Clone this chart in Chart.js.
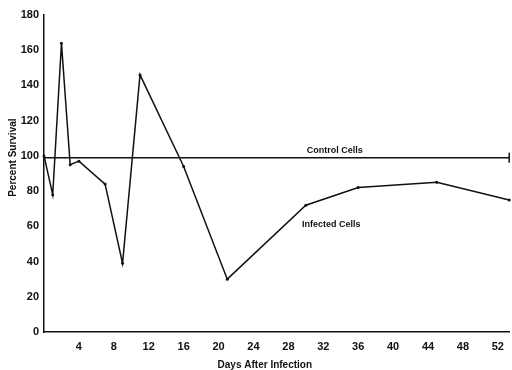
<!DOCTYPE html>
<html>
<head>
<meta charset="utf-8">
<script src="https://cdn.jsdelivr.net/npm/chart.js@4.4.1/dist/chart.umd.min.js"></script>
<style>
html,body{margin:0;padding:0;background:#fff;overflow:hidden;}
#wrap{width:512px;height:370px;position:relative;}
canvas{display:block;}
</style>
</head>
<body>
<div id="wrap"><canvas id="c" width="512" height="370"></canvas></div>
<script>
const infectedDays = [0, 1, 2, 3, 4, 7, 9, 11, 16, 21, 30, 36, 45, 53.3];
const infectedValues = [100, 78, 164, 95, 97, 84, 39, 146, 94, 30, 72, 82, 85, 75];
const controlDays = [0, 53.3];
const controlValues = [99, 99];
const xTickLabels = [4, 8, 12, 16, 20, 24, 28, 32, 36, 40, 44, 48, 52];
const yTickLabels = [0, 20, 40, 60, 80, 100, 120, 140, 160, 180];

const ink = '#111';
const fontFam = '"Liberation Sans", Arial, sans-serif';

const labelPlugin = {
  id: 'seriesLabels',
  afterDatasetsDraw(chart) {
    const {ctx, scales: {x, y}} = chart;
    ctx.save();
    ctx.fillStyle = ink;
    ctx.font = 'bold 9px ' + fontFam;
    ctx.textAlign = 'center';
    ctx.textBaseline = 'middle';
    ctx.fillText('Control Cells', x.getPixelForValue(33.3), y.getPixelForValue(102.8));
    ctx.fillText('Infected Cells', x.getPixelForValue(32.9), y.getPixelForValue(60.8));
    // axis titles
    ctx.font = 'bold 10px ' + fontFam;
    ctx.fillText('Days After Infection', x.getPixelForValue(25.3), 365);
    ctx.translate(13, y.getPixelForValue(99));
    ctx.rotate(-Math.PI / 2);
    ctx.fillText('Percent Survival', 0, 0);
    ctx.restore();
  }
};

new Chart(document.getElementById('c'), {
  type: 'line',
  data: {
    datasets: [
      {
        label: 'Control Cells',
        data: controlDays.map((d, i) => ({x: d, y: controlValues[i]})),
        borderColor: ink,
        borderWidth: 1.5,
        pointRadius: [0, 5],
        pointStyle: 'line',
        rotation: 90,
        pointBorderColor: ink,
        pointBorderWidth: 1.5,
        tension: 0
      },
      {
        label: 'Infected Cells',
        data: infectedDays.map((d, i) => ({x: d, y: infectedValues[i]})),
        borderColor: ink,
        borderWidth: 1.5,
        pointRadius: 1.5,
        pointBackgroundColor: ink,
        pointBorderColor: ink,
        pointBorderWidth: 0,
        tension: 0
      }
    ]
  },
  options: {
    responsive: false,
    animation: false,
    events: [],
    clip: false,
    layout: {autoPadding: false, padding: {top: 15, right: 1, left: 0, bottom: 0}},
    plugins: {legend: {display: false}, tooltip: {enabled: false}},
    scales: {
      x: {
        type: 'linear',
        min: 0,
        max: 53.3,
        afterBuildTicks(scale) { scale.ticks = xTickLabels.map(v => ({value: v})); },
        afterFit(scale) { scale.height = 38; },
        grid: {display: false, drawTicks: false},
        border: {display: true, color: ink, width: 1.5},
        ticks: {color: ink, font: {family: fontFam, size: 11, weight: 'bold'}, padding: 8, maxRotation: 0, autoSkip: false},
        title: {display: false}
      },
      y: {
        min: 0,
        max: 180,
        afterBuildTicks(scale) { scale.ticks = yTickLabels.map(v => ({value: v})); },
        afterFit(scale) { scale.width = 44; },
        grid: {display: false, drawTicks: false},
        border: {display: true, color: ink, width: 1.5},
        ticks: {color: ink, font: {family: fontFam, size: 11, weight: 'bold'}, padding: 5, autoSkip: false},
        title: {display: false}
      }
    }
  },
  plugins: [labelPlugin]
});
</script>
</body>
</html>
